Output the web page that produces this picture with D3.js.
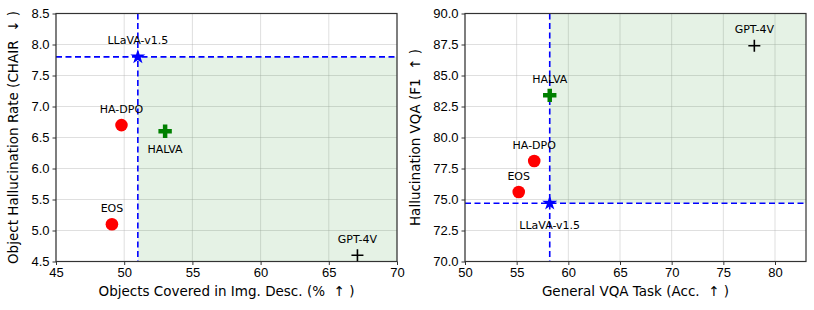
<!DOCTYPE html>
<html>
<head>
<meta charset="utf-8">
<script src="https://cdn.jsdelivr.net/npm/d3@7"></script>
<style>
  body { margin: 0; background: #fff; }
  svg { font-family: "DejaVu Sans", sans-serif; }
  .tick text { font-size: 13px; fill: #000; }
  .grid line { stroke: #b0b0b0; stroke-opacity: 0.5; stroke-width: 0.8; }
</style>
</head>
<body>
<div id="chart"></div>
<script>
// models, in the order they appear in both panels
const models = ['LLaVA-v1.5', 'HA-DPO', 'HALVA', 'EOS', 'GPT-4V'];
const markers = ['star', 'circle', 'plusBold', 'circle', 'plus'];
const colors = ['#0000ff', '#ff0000', '#008000', '#ff0000', '#000000'];

// left panel: object coverage vs CHAIR
const coverage = [51.0, 49.8, 53.0, 49.1, 67.1];
const chair = [7.8, 6.7, 6.6, 5.1, 4.6];
const leftXTicks = [45, 50, 55, 60, 65, 70];
const leftYTicks = [4.5, 5.0, 5.5, 6.0, 6.5, 7.0, 7.5, 8.0, 8.5];

// right panel: general VQA vs hallucination VQA
const vqaAcc = [58.2, 56.7, 58.2, 55.2, 78.0];
const halVqa = [74.7, 78.1, 83.4, 75.6, 87.4];
const rightXTicks = [50, 55, 60, 65, 70, 75, 80];
const rightYTicks = [70.0, 72.5, 75.0, 77.5, 80.0, 82.5, 85.0, 87.5, 90.0];

const W = 814, H = 310;
const svg = d3.select('#chart').append('svg').attr('width', W).attr('height', H);
const sp = '\u00a0';

function panel(opt) {
  const x = d3.scaleLinear().domain(opt.xDomain).range([opt.left, opt.right]);
  const y = d3.scaleLinear().domain(opt.yDomain).range([opt.bottom, opt.top]);
  const g = svg.append('g');

  // grid
  g.append('g').attr('class', 'grid')
    .selectAll('line.v').data(opt.xTicks).join('line')
    .attr('x1', d => x(d)).attr('x2', d => x(d))
    .attr('y1', opt.top).attr('y2', opt.bottom);
  g.append('g').attr('class', 'grid')
    .selectAll('line.h').data(opt.yTicks).join('line')
    .attr('y1', d => y(d)).attr('y2', d => y(d))
    .attr('x1', opt.left).attr('x2', opt.right);

  // shaded "better" region
  const bx = opt.xs[0], by = opt.ys[0];
  const yEnd = opt.shadeUp ? opt.yDomain[1] : opt.yDomain[0];
  g.append('rect')
    .attr('x', x(bx)).attr('width', x(opt.xDomain[1]) - x(bx))
    .attr('y', Math.min(y(by), y(yEnd)))
    .attr('height', Math.abs(y(yEnd) - y(by)))
    .attr('fill', 'green').attr('fill-opacity', 0.1);

  // baseline dashed lines
  g.append('line')
    .attr('x1', x(bx)).attr('x2', x(bx))
    .attr('y1', opt.top).attr('y2', opt.bottom)
    .attr('stroke', '#0000ff').attr('stroke-width', 1.6).attr('stroke-dasharray', '6,3.5');
  g.append('line')
    .attr('x1', opt.left).attr('x2', opt.right)
    .attr('y1', y(by)).attr('y2', y(by))
    .attr('stroke', '#0000ff').attr('stroke-width', 1.6).attr('stroke-dasharray', '6,3.5');

  // axes
  g.append('g').attr('transform', `translate(0,${opt.bottom})`)
    .call(d3.axisBottom(x).tickValues(opt.xTicks).tickSize(3.5).tickPadding(3).tickFormat(d3.format('d')));
  g.append('g').attr('transform', `translate(${opt.left},0)`)
    .call(d3.axisLeft(y).tickValues(opt.yTicks).tickSize(3.5).tickPadding(3).tickFormat(d3.format('.1f')));
  g.selectAll('.domain').remove();
  g.selectAll('.tick line').attr('stroke', '#000').attr('stroke-width', 0.8);
  g.append('rect')
    .attr('x', opt.left).attr('y', opt.top)
    .attr('width', opt.right - opt.left).attr('height', opt.bottom - opt.top)
    .attr('fill', 'none').attr('stroke', '#333').attr('stroke-width', 1.2);

  // axis labels
  g.append('text')
    .attr('x', (opt.left + opt.right) / 2).attr('y', 296)
    .attr('text-anchor', 'middle').attr('font-size', 13.5)
    .text(opt.xLabel);
  g.append('text')
    .attr('transform', `translate(${opt.yLabelX},${(opt.top + opt.bottom) / 2}) rotate(-90)`)
    .attr('text-anchor', 'middle').attr('dy', '0.35em').attr('font-size', 13.5)
    .text(opt.yLabel);

  // markers
  models.forEach((m, i) => {
    const px = x(opt.xs[i]), py = y(opt.ys[i]);
    const k = markers[i];
    if (k === 'circle') {
      g.append('circle').attr('cx', px).attr('cy', py).attr('r', 6.3).attr('fill', colors[i]);
    } else if (k === 'star') {
      g.append('path').attr('d', d3.symbol(d3.symbolStar, 70)())
        .attr('transform', `translate(${px},${py})`).attr('fill', colors[i]);
    } else if (k === 'plusBold') {
      g.append('path').attr('d', d3.symbol(d3.symbolCross, 100)())
        .attr('transform', `translate(${px},${py})`).attr('fill', colors[i]);
    } else {
      g.append('path').attr('d', 'M-6,0H6M0,-6V6')
        .attr('transform', `translate(${px},${py})`)
        .attr('stroke', colors[i]).attr('stroke-width', 1.6);
    }
    const dy = opt.labelBelow[m] !== undefined ? opt.labelBelow[m] : -12.5;
    g.append('text')
      .attr('x', px).attr('y', py + dy)
      .attr('text-anchor', 'middle').attr('font-size', 11)
      .text(m);
  });
}

panel({
  left: 56, right: 397, top: 13.5, bottom: 261.5,
  xDomain: [45, 70], yDomain: [4.5, 8.5],
  xTicks: leftXTicks, yTicks: leftYTicks,
  xs: coverage, ys: chair, shadeUp: false,
  xLabel: `Objects Covered in Img. Desc. (%${sp}${sp}\u2191${sp})`,
  yLabel: `Object Hallucination Rate (CHAIR${sp}${sp}\u2193${sp})`,
  yLabelX: 13,
  labelBelow: { 'HALVA': 22 }
});

panel({
  left: 465, right: 806, top: 13.5, bottom: 261.5,
  xDomain: [50, 83], yDomain: [70, 90],
  xTicks: rightXTicks, yTicks: rightYTicks,
  xs: vqaAcc, ys: halVqa, shadeUp: true,
  xLabel: `General VQA Task (Acc.${sp}${sp}\u2191${sp})`,
  yLabel: `Hallucination VQA (F1${sp}${sp}\u2191${sp})`,
  yLabelX: 415,
  labelBelow: { 'LLaVA-v1.5': 26 }
});
</script>
</body>
</html>
